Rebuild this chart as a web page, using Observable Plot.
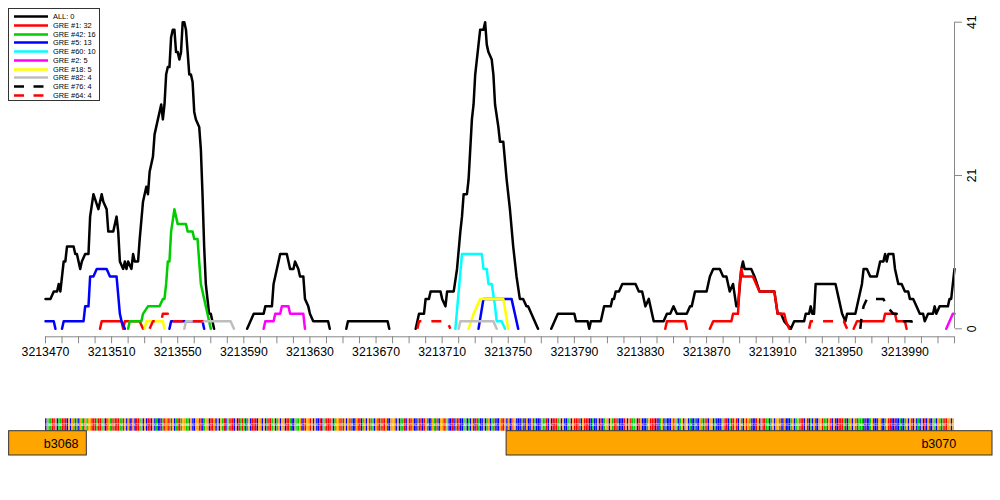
<!DOCTYPE html>
<html><head><meta charset="utf-8">
<script src="https://cdn.jsdelivr.net/npm/d3@7"></script>
<script src="https://cdn.jsdelivr.net/npm/@observablehq/plot@0.6"></script>
<style>
body{margin:0;background:#fff;font-family:"Liberation Sans",Arial,sans-serif;}
#wrap{position:relative;width:1000px;height:500px;overflow:hidden;background:#fff}
#wrap svg{display:block}
#legend{position:absolute;left:8px;top:8px;width:90px;height:91px;border:1px solid #333;background:#fff}
.row{position:absolute;left:0;height:9px;display:flex;align-items:center;font-size:7.4px;white-space:nowrap;color:#000}
.row svg{display:block}
</style></head><body><div id="wrap"></div>
<script>
// genomic coordinate of the first axis tick; series positions below are offsets from it
const BASE = 3213470;
const X_END = 3214020;

// x axis: minor ticks every 10 bp, labels every 40 bp
const xTicks = [3213470,3213480,3213490,3213500,3213510,3213520,3213530,3213540,3213550,3213560,3213570,3213580,3213590,3213600,3213610,3213620,3213630,3213640,3213650,3213660,3213670,3213680,3213690,3213700,3213710,3213720,3213730,3213740,3213750,3213760,3213770,3213780,3213790,3213800,3213810,3213820,3213830,3213840,3213850,3213860,3213870,3213880,3213890,3213900,3213910,3213920,3213930,3213940,3213950,3213960,3213970,3213980,3213990,3214000,3214010,3214020];
const xLabels = [3213470,3213510,3213550,3213590,3213630,3213670,3213710,3213750,3213790,3213830,3213870,3213910,3213950,3213990];
// y axis (right): 0, half of max, max
const yTicks = [0, 20.5, 41];
const yTickLabels = ["0", "21", "41"];

// series names / legend
const seriesNames = ["ALL: 0","GRE #1: 32","GRE #42: 16","GRE #5: 13","GRE #60: 10","GRE #2: 5","GRE #18: 5","GRE #82: 4","GRE #76: 4","GRE #64: 4"];

// [offset from BASE, count]; null = gap
const ALL = [[0,4],[3,4],[5,5],[7,5],[8,6],[9,5],[11,9],[12,9],[13,11],[17,11],[18,10],[19,10],[21,8],[22,9],[24,10],[26,10],[27,15],[29,18],[32,16],[34,18],[35,17],[37,16],[38,13],[41,13],[43,15],[44,13],[45,9],[47,8],[48,9],[49,8],[50,9],[52,8],[53,10],[54,9],[56,9],[57,12],[59,17],[61,19],[62,18],[63,21],[64,22],[65,23],[66,26],[67,27],[69,29],[70,30],[71,28],[72,30],[73,34],[74,35],[75,35],[76,39],[77,40],[78,40],[79,37],[80,37],[81,36],[82,37],[83,41],[84,41],[85,40],[86,37],[87,34],[88,34],[89,33],[90,29],[91,28],[93,27],[94,24],[95,18],[96,11],[97,6],[98,4],[99,2],[100,2],[101,1],[102,0],
 null,[122,0],[124,1],[126,2],[132,2],[133,3],[137,3],[138,6],[139,7],[142,10],[146,10],[148,8],[150,8],[151,9],[153,8],[154,7],[156,7],[157,4],[159,3],[160,2],[162,1],[171,1],[172,0],
 null,[182,0],[183,1],[207,1],[208,0],
 null,[224,0],[226,2],[229,2],[230,4],[232,4],[233,5],[239,5],[240,4],[242,3],[243,5],[247,5],[249,8],[251,13],[252,15],[253,18],[255,18],[256,20],[257,24],[258,28],[259,30],[260,34],[262,38],[263,40],[265,40],[266,41],[267,38],[268,37],[270,36],[271,34],[272,30],[274,27],[275,25],[277,25],[279,20],[281,16],[283,11],[285,7],[287,4],[289,4],[291,3],[292,3],[294,2],[296,1],[298,0],
 null,[306,0],[310,2],[320,2],[321,1],[328,1],[329,0],[330,1],[336,1],[338,3],[342,3],[343,4],[344,4],[345,5],[347,5],[349,6],[357,6],[359,5],[361,5],[363,3],[365,4],[368,1],[374,1],[376,2],[378,2],[380,3],[382,2],[388,2],[390,3],[391,3],[393,5],[400,5],[402,7],[404,8],[408,8],[410,7],[412,7],[414,5],[416,6],[418,3],[419,3],[421,8],[422,9],[423,8],[427,8],[429,7],[432,5],[441,5],[443,2],[445,2],[447,1],[451,0],[453,1],[459,1],[460,2],[462,2],[463,3],[464,2],[465,2],[466,6],[478,6],[480,4],[482,2],[484,1],[485,2],[490,2],[494,6],[495,8],[497,8],[499,7],[503,7],[505,9],[507,9],[508,10],[509,9],[510,10],[513,10],[514,8],[516,6],[518,6],[520,5],[522,5],[523,4],[525,4],[527,3],[529,2],[531,2],[532,1],[534,2],[537,2],[538,3],[539,2],[541,3],[546,3],[547,4],[548,4],[549,6],[550,8]];
const GRE1 = [[33,0],[34,1],[46,1],[47,0],[48,1],[57,1],[59,0],null,[375,0],[376,1],[387,1],[388,0],null,[402,0],[404,1],[415,1],[416,2],[419,2],[420,6],[421,8],[422,7],[428,7],[432,5],[441,5],[443,2],[447,2],[448,1],[450,0],null,[489,0],[491,1],[507,1],[508,2],[514,2],[515,1],[520,1],[521,0]];
const GRE42 = [[50,0],[51,1],[58,1],[59,2],[62,3],[69,3],[71,4],[72,4],[73,6],[74,9],[75,9],[76,13],[78,16],[80,14],[85,14],[86,13],[89,13],[90,12],[92,12],[94,6],[96,4],[98,2],[100,0]];
const GRE5 = [[0,1],[5,1],[6,0],null,[10,0],[11,1],[23,1],[24,3],[26,3],[27,7],[29,7],[31,8],[37,8],[39,7],[43,7],[45,2],[46,1],[48,0],null,[75,0],[76,1],[95,1],[96,0],null,[262,0],[265,4],[282,4],[283,3],[284,2],[286,0]];
const GRE60 = [[248,0],[250,5],[252,10],[264,10],[265,8],[267,8],[268,6],[270,6],[272,3],[273,1],[276,1],[278,0]];
const GRE2 = [[132,0],[133,1],[138,1],[139,2],[142,2],[143,3],[147,3],[148,2],[156,2],[157,0],null,[545,0],[547,1],[549,2],[550,2]];
const GRE18 = [[60,0],[61,1],[71,1],[72,0],null,[256,0],[259,2],[263,4],[277,4],[280,0]];
const GRE82 = [[84,0],[85,1],[112,1],[114,0],null,[250,0],[251,1],[271,1],[273,0]];
const GRE76 = [[493,0],[494,2],[495,3],[497,4],[507,4],[509,3],[513,2],[515,2],[517,1],[524,1],[525,0]];
const GRE64 = [[63,0],[65,1],[70,1],[71,2],[74,2],[75,1],[95,1],[96,0],null,[225,0],[226,1],[243,1],[245,0],null,[462,0],[463,1],[483,1],[485,0]];

// genes (visible extents) and label anchor positions
const geneNames = ["b3068", "b3070"];
const geneStart = [3213448, 3213749];
const geneEnd = [3213495, 3214043];
const geneLabelAt = [3213490, 3214021];

// sequence shown under the plot (one letter per bp from BASE)
const sequence =
 "CGAATTGCAATTTCGCGATACGATGAGGTTTATTAGCTGATATTTAATGC" +
 "GCTGCTTAGCGCTTCGCACCTATGTATGCATTAGGAATGCCGGTTCAGGC" +
 "TTGCGCGATCGATTCGCTATACAGCTTTCGGCGCATTAGCAGCGGCTTAC" +
 "CGAAGCTTGGTGCGCCTCGATTTGCAGGTATGCGTACCGTTCAGCGTAAC" +
 "GTTATTGCCGGGCGCAATCGTTGCCATTCTGACCGATACGGTAGCCTCAT" +
 "TCCAGCACGCTTACCGCAGCAATCCGTTGCGCTGGCCCATCGCCGTACCC" +
 "GAATCGCTTTAGCGCCAGCGTTTACGTTTCCACCGCTCAGGCGATTACCC" +
 "TGCGTAAGCTGCCCAGTTTCTCAGCACCCGTGACAGCGGCACCACCGATA" +
 "TCGGCACCCAGTTCATTGTCGACGTGATCCTGCGTTAACAGCGGATCGCC" +
 "CAGCAGATTCGTCACGCCGGTAATGTCGCCTTTATCAGCGATAAACTCCA" +
 "GCCCGGCCAGTTCCTCCACCAGCGTCGCACGCTCGCCGACGATATTGGCG";

// ---- styling ----
const seriesData = [ALL, GRE1, GRE42, GRE5, GRE60, GRE2, GRE18, GRE82, GRE76, GRE64];
const colors = ["#000000","#FF0000","#00CD00","#0000FF","#00FFFF","#FF00FF","#FFFF00","#BEBEBE","#000000","#FF0000"];
const dashes = [null,null,null,null,null,null,null,null,"10,10","10,10"];
const baseColor = {A:"#00CD00", C:"#0000FF", G:"#FFA500", T:"#FF0000"};
const AXIS = "#888888";
const FONT = "'Liberation Sans', Arial, sans-serif";

const lineMarks = seriesData.map((pts, i) => {
  const rows = pts.map(p => p ? {x: BASE + p[0], y: p[1]} : {x: NaN, y: NaN});
  return Plot.line(rows, {x: "x", y: "y", stroke: colors[i], strokeWidth: 2.5,
    strokeDasharray: dashes[i] || undefined, strokeLinejoin: "round", strokeLinecap: dashes[i] ? "butt" : "round"});
});

const main = Plot.plot({
  width: 1000, height: 380,
  marginLeft: 45, marginRight: 46, marginTop: 21.7, marginBottom: 51.7,
  style: {fontFamily: FONT, fontSize: "12px", background: "transparent", overflow: "visible"},
  x: {domain: [BASE, X_END], axis: null},
  y: {domain: [0, 41], axis: null},
  marks: [
    ...lineMarks,
    // x axis line, ticks, labels
    Plot.ruleY([0], {stroke: AXIS, strokeWidth: 1, dy: 8}),
    Plot.axisX({ticks: xTicks, tickSize: 7, tickFormat: () => "", stroke: AXIS, dy: 8, label: null}),
    Plot.text(xLabels, {x: d => d, frameAnchor: "bottom", dy: 27, text: d => String(d), fill: "#000", fontSize: 12.3}),
    // right y axis
    Plot.ruleX([X_END], {stroke: AXIS, strokeWidth: 1}),
    Plot.axisY({anchor: "right", ticks: yTicks, tickSize: 7, tickFormat: () => "", stroke: AXIS, label: null}),
    Plot.text(yTicks, {y: d => d, frameAnchor: "right", dx: 18, rotate: -90, text: (d, i) => yTickLabels[i], fill: "#000", fontSize: 12.3, textAnchor: "middle"})
  ]
});

const bases = Array.from(sequence, (b, i) => ({pos: BASE + i, b}));
const genes = geneNames.map((n, i) => ({name: n, start: geneStart[i], end: geneEnd[i], label: geneLabelAt[i]}));

const track = Plot.plot({
  width: 1000, height: 120,
  marginLeft: 45, marginRight: 46, marginTop: 0, marginBottom: 0,
  style: {fontFamily: FONT, background: "transparent", overflow: "visible"},
  x: {domain: [BASE, X_END], axis: null},
  y: {domain: [0, 120], range: [0, 120], axis: null},
  marks: [
    Plot.rect(bases, {x1: "pos", x2: d => d.pos + 1, y1: 38.3, y2: 50.7, fill: d => baseColor[d.b], insetLeft: 0.1, insetRight: 0.1}),
    // base letters, drawn small in white over each coloured cell
    Plot.text(bases, {x: d => d.pos + 0.5, y: 44.5, text: "b", fill: "#fff", fontSize: 4, fillOpacity: 0.8}),
    Plot.rect(genes, {x1: "start", x2: "end", y1: 50.7, y2: 75, fill: "#FFA500", stroke: "#333", strokeWidth: 1}),
    Plot.text(genes, {x: "label", y: 63.5, text: "name", textAnchor: "end", fill: "#000", fontSize: 12.5})
  ]
});

const wrap = document.getElementById("wrap");
wrap.appendChild(main);
wrap.appendChild(track);

// legend (top-left, inside plot area)
const legend = document.createElement("div");
legend.id = "legend";
seriesNames.forEach((name, i) => {
  const row = document.createElement("div");
  row.className = "row";
  row.style.top = (3.3 + 8.7 * i) + "px";
  const dash = dashes[i] ? `stroke-dasharray="10,9.5"` : "";
  row.innerHTML = `<svg width="44" height="9"><line x1="5" x2="39" y1="4.5" y2="4.5" stroke="${colors[i]}" stroke-width="2.5" stroke-linecap="butt" ${dash}/></svg><span>${name}</span>`;
  legend.appendChild(row);
});
wrap.appendChild(legend);
</script>
</body></html>
